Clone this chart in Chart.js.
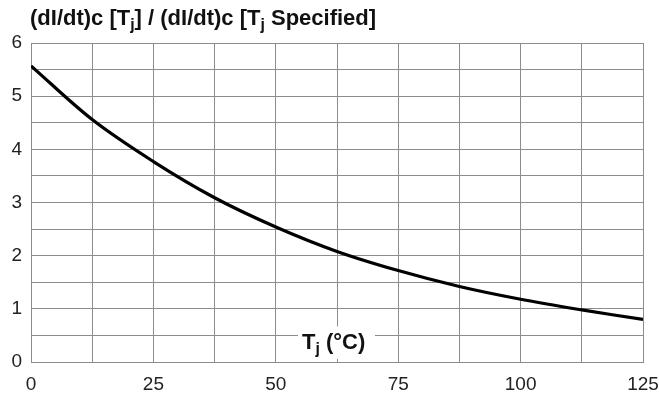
<!DOCTYPE html>
<html>
<head>
<meta charset="utf-8">
<script src="https://cdn.jsdelivr.net/npm/chart.js@4/dist/chart.umd.min.js"></script>
<style>
  html, body { margin: 0; padding: 0; background: #fff; }
  #wrap { width: 659px; height: 394px; position: relative; }
</style>
</head>
<body>
<div id="wrap"><canvas id="grafico"></canvas></div>
<script>
// Tj (°C) vs ratio of commutating dI/dt
var temperaturas = [0, 12.5, 25, 37.5, 50, 62.5, 75, 87.5, 100, 112.5, 125];
var relacion = [5.57, 4.56, 3.77, 3.09, 2.54, 2.08, 1.72, 1.42, 1.18, 0.98, 0.80];
var ticksX = [0, 25, 50, 75, 100, 125];
var ticksY = [0, 1, 2, 3, 4, 5, 6];

var fuente = '"Liberation Sans", Arial, sans-serif';
var gris = '#8c8c8c';

// texto con subindice "j": partes [texto, esSubindice]
function textoConSub(ctx, partes, x, y, size) {
  partes.forEach(function (p) {
    var s = p[1] ? size * 0.72 : size;
    ctx.font = 'bold ' + s + 'px ' + fuente;
    ctx.fillText(p[0], x, p[1] ? y + size * 0.22 : y);
    x += ctx.measureText(p[0]).width;
  });
  return x;
}

var etiquetas = {
  id: 'etiquetas',
  beforeDatasetsDraw: function (chart) {
    var ctx = chart.ctx;
    var sy = chart.scales.y;
    ctx.save();
    // caja blanca bajo el nombre del eje x
    ctx.fillStyle = '#fff';
    ctx.fillRect(298, sy.getPixelForValue(0.67), 77, sy.getPixelForValue(0.06) - sy.getPixelForValue(0.67));
    ctx.fillStyle = '#111';
    ctx.textBaseline = 'alphabetic';
    textoConSub(ctx, [['T', false], ['j', true], [' (°C)', false]], 302, 349, 22);
    // titulo del eje y
    textoConSub(ctx, [['(dI/dt)c [T', false], ['j', true], ['] / (dI/dt)c [T', false], ['j', true], [' Specified]', false]], 30, 25, 22);
    ctx.restore();
  }
};

new Chart(document.getElementById('grafico').getContext('2d'), {
  type: 'line',
  data: {
    labels: temperaturas,
    datasets: [{
      data: temperaturas.map(function (t, i) { return { x: t, y: relacion[i] }; }),
      borderColor: '#000',
      borderWidth: 3.2,
      pointRadius: 0,
      tension: 0.35,
      fill: false
    }]
  },
  options: {
    responsive: true,
    maintainAspectRatio: false,
    animation: false,
    layout: { padding: { top: 43, right: 16, left: 0, bottom: 0 } },
    plugins: { legend: { display: false }, tooltip: { enabled: false } },
    scales: {
      x: {
        type: 'linear',
        min: 0, max: 125,
        afterBuildTicks: function (s) {
          s.ticks = temperaturas.map(function (v) { return { value: v }; });
        },
        afterFit: function (s) {
          s.height = 32;
          s.paddingLeft = 0;
          s.paddingRight = 0;
        },
        grid: { color: gris, lineWidth: 1, drawTicks: false },
        border: { color: gris, width: 1 },
        ticks: {
          color: '#222',
          padding: 11,
          maxRotation: 0,
          autoSkip: false,
          font: { family: fuente, size: 19 },
          callback: function (v) { return ticksX.indexOf(v) >= 0 ? v : ''; }
        }
      },
      y: {
        min: 0, max: 6,
        afterBuildTicks: function (s) {
          var t = [];
          for (var v = 0; v <= 6; v += 0.5) t.push({ value: v });
          s.ticks = t;
        },
        afterFit: function (s) { s.width = 31; },
        grid: { color: gris, lineWidth: 1, drawTicks: false },
        border: { color: gris, width: 1 },
        ticks: {
          color: '#222',
          padding: 9,
          autoSkip: false,
          font: { family: fuente, size: 19 },
          callback: function (v) { return ticksY.indexOf(v) >= 0 ? v : ''; }
        }
      }
    }
  },
  plugins: [etiquetas]
});
</script>
</body>
</html>
